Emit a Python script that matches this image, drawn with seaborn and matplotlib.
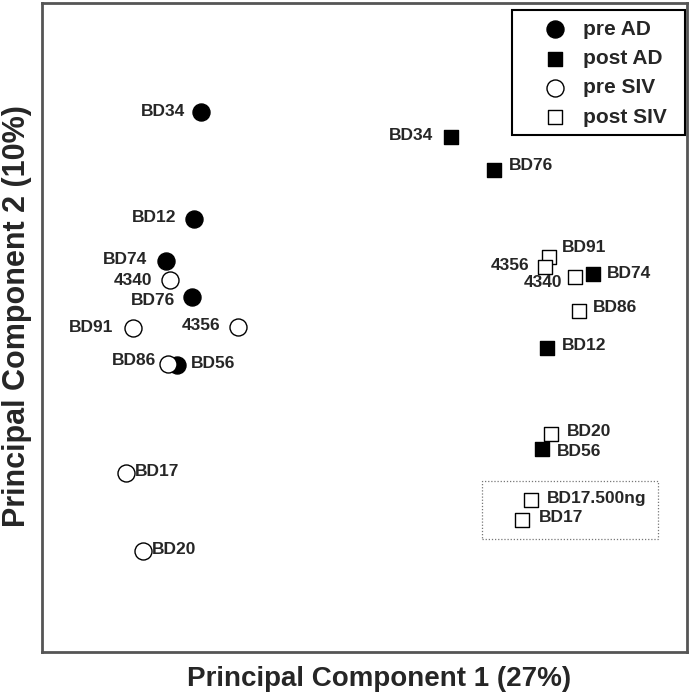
import pandas as pd
import matplotlib.pyplot as plt
import matplotlib.patches as mpatches
import seaborn as sns

# Values (arbitrary PCA units, no ticks shown)
pre_ad_names = ['BD34', 'BD12', 'BD74', 'BD76', 'BD56']
pre_ad_x = [159, 152, 124, 150, 135]
pre_ad_y = [540, 433, 391, 355, 287]

pre_siv_names = ['4340', 'BD91', '4356', 'BD86', 'BD17', 'BD20']
pre_siv_x = [128, 91, 196, 126, 84, 101]
pre_siv_y = [372, 324, 325, 288, 179, 101]

post_ad_names = ['BD34', 'BD76', 'BD74', 'BD12', 'BD56']
post_ad_x = [409, 452, 551, 505, 500]
post_ad_y = [515, 482, 378, 304, 203]

post_siv_names = ['BD91', '4356', '4340', 'BD86', 'BD20', 'BD17.500ng', 'BD17']
post_siv_x = [507, 503, 533, 537, 509, 489, 480]
post_siv_y = [395, 385, 375, 341, 218, 152, 132]

groups = ['pre AD', 'post AD', 'pre SIV', 'post SIV']

# label placement (pixel offsets from the point, horizontal alignment)
pre_ad_off = [(-16, 0, 'right'), (-18, 2, 'right'), (-19, 2, 'right'), (-17, -3, 'right'), (14, 2, 'left')]
pre_siv_off = [(-18, 0, 'right'), (-20, 1, 'right'), (-18, 2, 'right'), (-12, 4, 'right'), (9, 1, 'left'), (9, 1, 'left')]
post_ad_off = [(-18, 2, 'right'), (15, 4, 'left'), (14, 1, 'left'), (15, 3, 'left'), (15, -3, 'left')]
post_siv_off = [(13, 10, 'left'), (-16, 2, 'right'), (-13, -5, 'right'), (14, 4, 'left'), (16, 3, 'left'), (16, 2, 'left'), (17, 3, 'left')]

df = pd.concat([
    pd.DataFrame({'pc1': pre_ad_x, 'pc2': pre_ad_y, 'name': pre_ad_names, 'group': 'pre AD'}),
    pd.DataFrame({'pc1': pre_siv_x, 'pc2': pre_siv_y, 'name': pre_siv_names, 'group': 'pre SIV'}),
    pd.DataFrame({'pc1': post_ad_x, 'pc2': post_ad_y, 'name': post_ad_names, 'group': 'post AD'}),
    pd.DataFrame({'pc1': post_siv_x, 'pc2': post_siv_y, 'name': post_siv_names, 'group': 'post SIV'}),
], ignore_index=True)
offsets = pre_ad_off + pre_siv_off + post_ad_off + post_siv_off

sns.set_style('white')
plt.rcParams['font.family'] = ['Liberation Sans', 'DejaVu Sans']

styles = {
    'pre AD':   dict(marker='o', facecolor='black', s=150, z=3),
    'pre SIV':  dict(marker='o', facecolor='white', s=150, z=4),
    'post SIV': dict(marker='s', facecolor='white', s=105, z=3),
    'post AD':  dict(marker='s', facecolor='black', s=105, z=4),
}

fig = plt.figure(figsize=(6.9, 6.94), dpi=100)
ax = fig.add_axes([42 / 690, 1 - 652 / 694, 645 / 690, 649 / 694])

handles = {}
for g in ['pre AD', 'pre SIV', 'post SIV', 'post AD']:
    st = styles[g]
    sub = df[df['group'] == g]
    sns.scatterplot(data=sub, x='pc1', y='pc2', marker=st['marker'], s=st['s'],
                    color=st['facecolor'], edgecolor='black', linewidth=1.0,
                    zorder=st['z'], ax=ax, legend=False)
    handles[g] = ax.collections[-1]

for (i, row), (dx, dy, ha) in zip(df.iterrows(), offsets):
    ax.annotate(row['name'], (row['pc1'], row['pc2']), xytext=(dx, dy),
                textcoords='offset pixels', ha=ha, va='center',
                fontsize=12.5, fontweight='bold', zorder=6)

# dotted box around the BD17 replicates
ax.add_patch(mpatches.Rectangle((440, 113), 176, 58, fill=False,
                                linestyle=(0, (1, 1.5)), edgecolor='#777777', linewidth=0.9))

ax.set_xlim(0, 645)
ax.set_ylim(0, 649)
ax.set_xticks([])
ax.set_yticks([])
for sp in ax.spines.values():
    sp.set_edgecolor('#555555')
    sp.set_linewidth(2)

ax.set_xlabel('Principal Component 1 (27%)', fontsize=20, fontweight='bold')
ax.set_ylabel('Principal Component 2 (10%)', fontsize=22, fontweight='bold')
ax.xaxis.set_label_coords(0.522, -0.021)
ax.yaxis.set_label_coords(-0.016, 0.518)

# legend without its own frame; the box is drawn separately to get the wider padding
leg = ax.legend([handles[g] for g in groups], groups, loc='upper left',
                bbox_to_anchor=(470 / 645, 642 / 649), borderaxespad=0,
                prop={'weight': 'bold', 'size': 15}, frameon=False,
                handlelength=3.2, handletextpad=-0.27, borderpad=0.46,
                labelspacing=0.5, scatterpoints=1)
ax.add_patch(mpatches.Rectangle((470 / 645, 517 / 649), 173 / 645, 125 / 649,
                                transform=ax.transAxes, fill=False,
                                edgecolor='black', linewidth=1.5, zorder=7))

fig.savefig('out.png', dpi=100)
